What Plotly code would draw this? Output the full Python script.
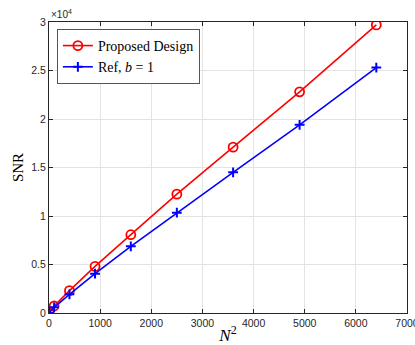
import plotly.graph_objects as go

n_sq = [1, 100, 400, 900, 1600, 2500, 3600, 4900, 6400]
snr_proposed = [10, 720, 2300, 4800, 8070, 12250, 17100, 22800, 29700]
snr_ref = [8, 590, 1930, 4050, 6870, 10340, 14500, 19400, 25300]

x_ticks = [0, 1000, 2000, 3000, 4000, 5000, 6000, 7000]
y_ticks = [0, 5000, 10000, 15000, 20000, 25000, 30000]
y_tick_text = ["0", "0.5", "1", "1.5", "2", "2.5", "3"]

fig = go.Figure()
fig.add_trace(go.Scatter(
    x=n_sq, y=snr_proposed, mode="lines+markers", name="Proposed Design",
    line=dict(color="#ff0000", width=1.6),
    marker=dict(symbol="circle-open", size=9, color="#ff0000", line=dict(width=1.8)),
))
fig.add_trace(go.Scatter(
    x=n_sq, y=snr_ref, mode="lines+markers", name="Ref, <i>b</i> = 1",
    line=dict(color="#0000ff", width=1.6),
    marker=dict(symbol="cross-thin-open", size=7, color="#0000ff", line=dict(width=2, color="#0000ff")),
))

tick_font = dict(family="Liberation Sans, Arial, sans-serif", size=10.5, color="#262626")
serif = "Liberation Serif, DejaVu Serif, serif"

fig.update_layout(
    width=415, height=345,
    margin=dict(l=49, r=8, t=22, b=32),
    paper_bgcolor="white", plot_bgcolor="white",
    showlegend=True,
    legend=dict(
        x=0.022, y=0.976, xanchor="left", yanchor="top",
        bgcolor="white", bordercolor="#555555", borderwidth=1,
        font=dict(family=serif, size=14, color="#000000"),
        tracegroupgap=0, itemwidth=30,
    ),
    xaxis=dict(
        range=[0, 7000], tickvals=x_ticks, ticktext=[str(v) for v in x_ticks],
        showgrid=True, gridcolor="#e3e3e3", gridwidth=1,
        showline=True, linecolor="#262626", linewidth=1, mirror="ticks",
        ticks="inside", ticklen=4, tickcolor="#262626",
        tickfont=tick_font, zeroline=False, automargin=False,
        ticklabeloverflow="allow",
        title=dict(text="<i>N</i><sup>2</sup>", font=dict(family=serif, size=17, color="#000000"), standoff=2),
    ),
    yaxis=dict(
        range=[0, 30000], tickvals=y_ticks, ticktext=y_tick_text,
        showgrid=True, gridcolor="#e3e3e3", gridwidth=1,
        showline=True, linecolor="#262626", linewidth=1, mirror="ticks",
        ticks="inside", ticklen=4, tickcolor="#262626",
        tickfont=tick_font, zeroline=False, automargin=False,
        ticklabeloverflow="allow",
        title=dict(text="SNR", font=dict(family=serif, size=15, color="#000000"), standoff=4),
    ),
    annotations=[dict(
        text="×10<sup>4</sup>", xref="paper", yref="paper", x=0.0, y=1.0,
        xanchor="left", yanchor="bottom", showarrow=False,
        font=dict(family="Liberation Sans, Arial, sans-serif", size=10, color="#262626"),
    )],
)

fig.write_html("out.html")
